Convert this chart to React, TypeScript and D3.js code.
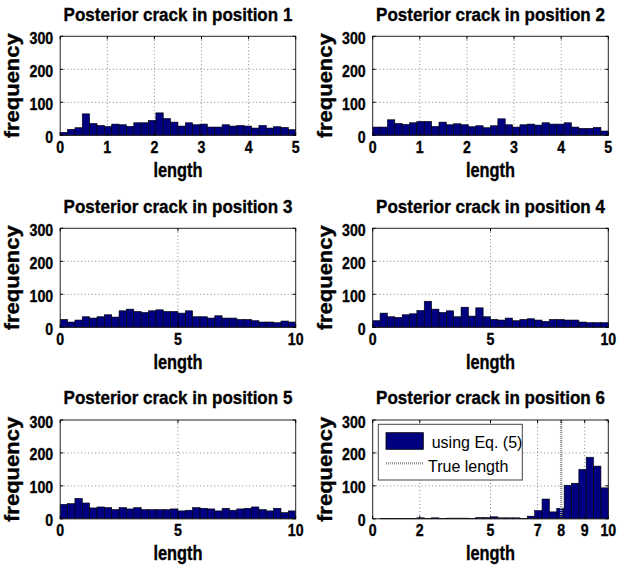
import React from "react";
import * as d3 from "d3";

const titles = [
  "Posterior crack in position 1",
  "Posterior crack in position 2",
  "Posterior crack in position 3",
  "Posterior crack in position 4",
  "Posterior crack in position 5",
  "Posterior crack in position 6",
];
const xMaxes = [5, 5, 10, 10, 10, 10];
const xTicksA = [0, 1, 2, 3, 4, 5];
const xTicksB = [0, 5, 10];
const xTicks6 = [0, 2, 5, 7, 8, 9, 10];
const yTicks = [0, 100, 200, 300];
const trueLength6 = 8;

const counts1 = [9, 18, 23, 65, 36, 30, 27, 34, 32, 27, 38, 38, 45, 68, 51, 40, 28, 38, 32, 34, 25, 25, 32, 28, 30, 28, 22, 30, 22, 26, 24, 17];
const counts2 = [25, 25, 47, 36, 33, 38, 42, 42, 27, 40, 32, 35, 32, 26, 29, 23, 29, 50, 32, 25, 32, 34, 31, 38, 34, 34, 38, 25, 21, 21, 24, 13];
const counts3 = [24, 16, 22, 32, 28, 32, 38, 31, 50, 55, 48, 45, 50, 53, 48, 48, 43, 50, 32, 32, 28, 35, 28, 28, 24, 24, 20, 16, 16, 14, 19, 16];
const counts4 = [20, 43, 32, 30, 38, 41, 51, 79, 55, 45, 50, 32, 61, 34, 59, 32, 24, 22, 28, 20, 24, 26, 22, 18, 24, 24, 22, 22, 16, 14, 14, 14];
const counts5 = [44, 46, 62, 48, 33, 36, 34, 28, 34, 30, 34, 28, 28, 28, 28, 30, 24, 26, 34, 32, 30, 24, 32, 26, 30, 32, 36, 28, 24, 32, 19, 24];
const counts6 = [0, 1, 1, 1, 1, 1, 3, 1, 3, 1, 2, 2, 2, 1, 4, 4, 6, 3, 3, 3, 1, 8, 25, 60, 21, 32, 102, 108, 150, 187, 160, 94];

const allCounts = [counts1, counts2, counts3, counts4, counts5, counts6];
const allXTicks = [xTicksA, xTicksA, xTicksB, xTicksB, xTicksB, xTicks6];

const FONT = "'Liberation Sans', Arial, Helvetica, sans-serif";
const BAR = "#000080";

const colLeft = [60.2, 372.7];
const colRight = [295.7, 608.3];
const rowTop = [36.3, 228.3, 420];
const rowBottom = [135.3, 327.3, 518.8];

function Txt({ x, y, anchor = "middle", size, weight = "bold", sx = 1, rot = 0, children }: any) {
  const bold = weight === "bold";
  return (
    <text
      transform={`translate(${x},${y}) rotate(${rot}) scale(${sx},1)`}
      textAnchor={anchor}
      fontFamily={FONT}
      fontSize={size}
      fontWeight={weight}
      fill="#000"
      stroke={bold ? "#000" : "none"}
      strokeWidth={bold ? 0.35 : 0}
    >
      {children}
    </text>
  );
}

function Panel({ idx }: { idx: number }) {
  const col = idx % 2;
  const row = Math.floor(idx / 2);
  const L = colLeft[col], R = colRight[col], T = rowTop[row], B = rowBottom[row];
  const xMax = xMaxes[idx];
  const counts = allCounts[idx];
  const ticks = allXTicks[idx];
  const x = d3.scaleLinear().domain([0, xMax]).range([L, R]);
  const y = d3.scaleLinear().domain([0, 300]).range([B, T]);
  const n = counts.length;
  const bw = xMax / n;
  const midX = (L + R) / 2;
  const midY = (T + B) / 2;
  return (
    <g>
      <rect x={L} y={T} width={R - L} height={B - T} fill="#fff" />
      {ticks.filter((t) => t > 0 && t < xMax).map((t) => (
        <line key={"gx" + t} x1={x(t)} x2={x(t)} y1={T} y2={B} stroke="#666" strokeWidth={0.8} strokeDasharray="1,2.5" />
      ))}
      {yTicks.filter((t) => t > 0 && t < 300).map((t) => (
        <line key={"gy" + t} x1={L} x2={R} y1={y(t)} y2={y(t)} stroke="#666" strokeWidth={0.8} strokeDasharray="1,2.5" />
      ))}
      {counts.map((c, i) =>
        c > 0 ? (
          <rect
            key={"b" + i}
            x={x(i * bw)}
            y={y(c)}
            width={x((i + 1) * bw) - x(i * bw)}
            height={y(0) - y(c)}
            fill={BAR}
            stroke="#000"
            strokeWidth={0.6}
          />
        ) : null
      )}
      {idx === 5 && (
        <line x1={x(trueLength6)} x2={x(trueLength6)} y1={T} y2={B} stroke="#999" strokeWidth={2.5} strokeDasharray="1,1" />
      )}
      <rect x={L} y={T} width={R - L} height={B - T} fill="none" stroke="#222" strokeWidth={1} />
      {ticks.map((t) => (
        <g key={"tx" + t}>
          <line x1={x(t)} x2={x(t)} y1={B} y2={B - 3} stroke="#000" />
          <line x1={x(t)} x2={x(t)} y1={T} y2={T + 3} stroke="#000" />
        </g>
      ))}
      {yTicks.map((t) => (
        <g key={"ty" + t}>
          <line x1={L} x2={L + 3} y1={y(t)} y2={y(t)} stroke="#000" />
          <line x1={R} x2={R - 3} y1={y(t)} y2={y(t)} stroke="#000" />
        </g>
      ))}
      {ticks.map((t) => (
        <Txt key={"lx" + t} x={x(t)} y={B + 17.5} size={16.5} sx={0.86}>
          {t}
        </Txt>
      ))}
      {yTicks.map((t) => (
        <Txt key={"ly" + t} x={L - 7} y={y(t) + 7.5} anchor="end" size={16.5} sx={0.86}>
          {t}
        </Txt>
      ))}
      <Txt x={midX} y={T - 15.8} size={18.5} sx={0.92}>
        {titles[idx]}
      </Txt>
      <Txt x={midX} y={B + 41.4} size={20} sx={0.82}>
        length
      </Txt>
      <Txt x={col === 0 ? 19 : 331.5} y={midY} size={20} rot={-90} sx={1.1}>
        frequency
      </Txt>
      {idx === 5 && (
        <g>
          <rect x={378.3} y={424.3} width={144} height={55.7} fill="#fff" stroke="#444" strokeWidth={1} />
          <rect x={386} y={432.7} width={37.3} height={16.6} fill={BAR} stroke="#000" strokeWidth={0.8} />
          <Txt x={431.7} y={448} anchor="start" size={16} weight="normal">
            using Eq. (5)
          </Txt>
          <line x1={386} x2={423.3} y1={463.3} y2={463.3} stroke="#999" strokeWidth={2.5} strokeDasharray="1,1" />
          <Txt x={428} y={471.7} anchor="start" size={16} weight="normal">
            True length
          </Txt>
        </g>
      )}
    </g>
  );
}

export default function App() {
  return (
    <svg
      width={619}
      height={574}
      style={{ position: "absolute", left: 0, top: 0, background: "#fff" }}
    >
      <rect width={619} height={574} fill="#fff" />
      {titles.map((_, i) => (
        <Panel key={i} idx={i} />
      ))}
    </svg>
  );
}
